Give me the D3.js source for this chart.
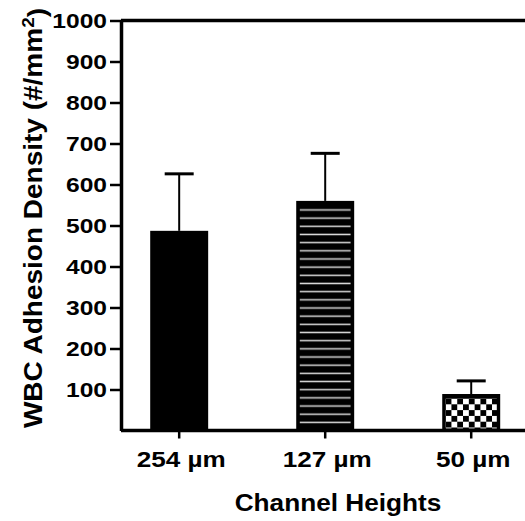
<!DOCTYPE html>
<html>
<head>
<meta charset="utf-8">
<script src="https://cdn.jsdelivr.net/npm/d3@7"></script>
<style>
  body { margin: 0; background: #fff; }
  svg { display: block; }
  text { font-family: Arial, "Liberation Sans", sans-serif; font-weight: bold; fill: #000; }
</style>
</head>
<body>
<script>
// WBC adhesion density by microchannel height (mean + SD)
const categories = ["254 µm", "127 µm", "50 µm"];
const meanDensity = [487, 560, 89];
const sdDensity = [139, 116, 32];
const fillStyles = ["solid", "stripes", "checker"];
const yTickValues = [100, 200, 300, 400, 500, 600, 700, 800, 900, 1000];
const yTitle = "WBC Adhesion Density (#/mm";
const xTitle = "Channel Heights";

const W = 525, H = 521;
const margin = { top: 20.5, left: 121, bottom: 90.5 };
const plotRight = 529.4;          // frame runs past the right edge
const plotBottom = H - margin.bottom;

const svg = d3.select("body").append("svg")
  .attr("width", W).attr("height", H);

const x = d3.scaleBand()
  .domain(categories)
  .range([margin.left, plotRight])
  .paddingInner(0.603)
  .paddingOuter(0.2);

const y = d3.scaleLinear()
  .domain([0, 1000])
  .range([plotBottom, margin.top]);

// fill patterns
const defs = svg.append("defs");
const stripe = defs.append("pattern")
  .attr("id", "stripes")
  .attr("patternUnits", "userSpaceOnUse")
  .attr("width", 10).attr("height", 8.17);
stripe.append("rect").attr("width", 10).attr("height", 8.17).attr("fill", "#000");
stripe.append("rect").attr("x", 0).attr("y", 3.3).attr("width", 10).attr("height", 1.5).attr("fill", "#d8d8d8");

const cell = 5.8;
const checker = defs.append("pattern")
  .attr("id", "checker")
  .attr("patternUnits", "userSpaceOnUse")
  .attr("width", cell * 2).attr("height", cell * 2);
checker.append("rect").attr("width", cell * 2).attr("height", cell * 2).attr("fill", "#fff");
checker.append("rect").attr("width", cell).attr("height", cell).attr("fill", "#000");
checker.append("rect").attr("x", cell).attr("y", cell).attr("width", cell).attr("height", cell).attr("fill", "#000");

const rows = categories.map((c, i) => ({
  cat: c, mean: meanDensity[i], sd: sdDensity[i], style: fillStyles[i]
}));

// error bars (upper only), drawn beneath the bars
const err = svg.append("g");
err.selectAll("line.stem").data(rows).join("line")
  .attr("x1", d => x(d.cat) + x.bandwidth() / 2)
  .attr("x2", d => x(d.cat) + x.bandwidth() / 2)
  .attr("y1", d => y(d.mean))
  .attr("y2", d => y(d.mean + d.sd))
  .attr("stroke", "#000").attr("stroke-width", 2);
err.selectAll("line.cap").data(rows).join("line")
  .attr("x1", d => x(d.cat) + x.bandwidth() / 2 - 14.5)
  .attr("x2", d => x(d.cat) + x.bandwidth() / 2 + 14.5)
  .attr("y1", d => y(d.mean + d.sd))
  .attr("y2", d => y(d.mean + d.sd))
  .attr("stroke", "#000").attr("stroke-width", 3);

// bars
const bars = svg.append("g");
bars.selectAll("rect.bar").data(rows).join("rect")
  .attr("x", d => x(d.cat))
  .attr("y", d => y(d.mean))
  .attr("width", x.bandwidth())
  .attr("height", d => y(0) - y(d.mean))
  .attr("fill", "#000");

// patterned interiors
rows.forEach(d => {
  if (d.style === "stripes") {
    const top = y(d.mean) + 5;
    stripe.attr("y", top);
    bars.append("rect")
      .attr("x", x(d.cat) + 3.6)
      .attr("y", top)
      .attr("width", x.bandwidth() - 7.2)
      .attr("height", y(0) - top - 3)
      .attr("fill", "url(#stripes)");
  } else if (d.style === "checker") {
    const top = y(d.mean) + 4.5;
    checker.attr("x", x(d.cat) + 3.4).attr("y", top);
    bars.append("rect")
      .attr("x", x(d.cat) + 3.4)
      .attr("y", top)
      .attr("width", x.bandwidth() - 6.8)
      .attr("height", y(0) - top - 2)
      .attr("fill", "url(#checker)");
  }
});

// frame top edge
svg.append("line")
  .attr("x1", margin.left).attr("x2", plotRight)
  .attr("y1", margin.top).attr("y2", margin.top)
  .attr("stroke", "#000").attr("stroke-width", 3.5);

// y axis
const yAxis = svg.append("g")
  .attr("transform", `translate(${margin.left},0)`)
  .call(d3.axisLeft(y).tickValues(yTickValues).tickSize(11).tickSizeOuter(0).tickFormat(d3.format("d")));
yAxis.select(".domain").attr("stroke-width", 3.5);
yAxis.selectAll(".tick line").attr("stroke-width", 2.5);
yAxis.selectAll(".tick text")
  .attr("x", null).attr("dy", "0.36em")
  .attr("transform", "translate(-14,0) scale(1.2,1)")
  .style("font-size", "20.5px");

// x axis
const xAxis = svg.append("g")
  .attr("transform", `translate(0,${plotBottom})`)
  .call(d3.axisBottom(x).tickSize(8).tickSizeOuter(0));
xAxis.select(".domain")
  .attr("d", `M${margin.left},0H${plotRight}`)
  .attr("stroke-width", 3.5);
xAxis.selectAll(".tick line").attr("stroke-width", 2.5);
xAxis.selectAll(".tick text")
  .attr("y", null).attr("dy", null)
  .attr("transform", "translate(2,36) scale(1.16,1)")
  .style("font-size", "22.5px");

// axis titles
svg.append("text")
  .attr("transform", "translate(338,511) scale(1.07,1)")
  .attr("text-anchor", "middle")
  .style("font-size", "24.5px")
  .text(xTitle);

const yt = svg.append("text")
  .attr("transform", "translate(42,218) rotate(-90) scale(1.12,1)")
  .attr("text-anchor", "middle")
  .style("font-size", "25px");
yt.append("tspan").text(yTitle);
yt.append("tspan").attr("dy", "-0.45em").style("font-size", "17px").text("2");
yt.append("tspan").attr("dy", "0.45em").text(")");
</script>
</body>
</html>
